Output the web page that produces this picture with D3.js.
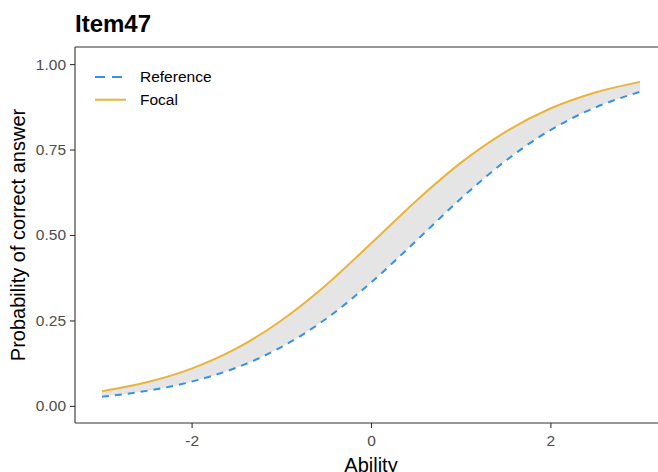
<!DOCTYPE html>
<html>
<head>
<meta charset="utf-8">
<script src="https://cdn.jsdelivr.net/npm/d3@7"></script>
<style>
  body { margin: 0; background: #fff; }
  svg { display: block; font-family: "Liberation Sans", Arial, sans-serif; }
</style>
</head>
<body>
<div id="chart-area"></div>
<script>
const chartWidth = 658
const chartHeight = 472

// values (ability on x, probability on y)
const ability = [-3, -2.5, -2, -1.5, -1, -0.5, 0, 0.5, 1, 1.5, 2, 2.5, 3]
const referenceP = [0.027, 0.044, 0.071, 0.112, 0.172, 0.255, 0.361, 0.482, 0.606, 0.717, 0.807, 0.873, 0.919]
const focalP = [0.043, 0.069, 0.109, 0.168, 0.250, 0.354, 0.475, 0.599, 0.711, 0.802, 0.870, 0.917, 0.948]
const xTicks = [-2, 0, 2]
const yTicks = [0, 0.25, 0.5, 0.75, 1]
const seriesNames = ["Reference", "Focal"]
const seriesColors = ["#3590E6", "#E9B43A"]

const panel = {left: 75, right: 667, top: 47, bottom: 423}

const svg = d3.select("#chart-area").append("svg")
    .attr("width", chartWidth)
    .attr("height", chartHeight)

const x = d3.scaleLinear().domain([-3.3, 3.3]).range([panel.left, panel.right])
const y = d3.scaleLinear().domain([-0.05, 1.05]).range([panel.bottom, panel.top])

const rows = ability.map((a, i) => ({a: a, ref: referenceP[i], foc: focalP[i]}))

// shaded gap between the two curves
const area = d3.area()
    .x(d => x(d.a))
    .y0(d => y(d.ref))
    .y1(d => y(d.foc))
    .curve(d3.curveMonotoneX)

svg.append("path")
    .datum(rows)
    .attr("d", area)
    .attr("fill", "#e5e5e5")

const line = key => d3.line()
    .x(d => x(d.a))
    .y(d => y(d[key]))
    .curve(d3.curveMonotoneX)

svg.append("path")
    .datum(rows)
    .attr("d", line("foc"))
    .attr("fill", "none")
    .attr("stroke", seriesColors[1])
    .attr("stroke-width", 2)

svg.append("path")
    .datum(rows)
    .attr("d", line("ref"))
    .attr("fill", "none")
    .attr("stroke", seriesColors[0])
    .attr("stroke-width", 2)
    .attr("stroke-dasharray", "7,6")

// axes
const xAxis = svg.append("g")
    .attr("transform", `translate(0, ${panel.bottom})`)
    .call(d3.axisBottom(x).tickValues(xTicks).tickSize(5).tickPadding(4).tickFormat(d => String(d)))

const yAxis = svg.append("g")
    .attr("transform", `translate(${panel.left}, 0)`)
    .call(d3.axisLeft(y).tickValues(yTicks).tickSize(5).tickPadding(4).tickFormat(d => d.toFixed(2)))

svg.selectAll(".domain").remove()
svg.selectAll(".tick line").attr("stroke", "#333").attr("stroke-width", 1.1)
svg.selectAll(".tick text")
    .attr("fill", "#4d4d4d")
    .attr("font-size", "15.5px")
    .attr("font-family", "Liberation Sans, Arial, sans-serif")
xAxis.selectAll(".tick text").attr("dy", "0.9em")

// axis lines + top border
svg.append("line").attr("x1", panel.left).attr("x2", chartWidth)
    .attr("y1", panel.bottom).attr("y2", panel.bottom)
    .attr("stroke", "#333").attr("stroke-width", 1.1)
svg.append("line").attr("x1", panel.left).attr("x2", panel.left)
    .attr("y1", panel.top).attr("y2", panel.bottom)
    .attr("stroke", "#333").attr("stroke-width", 1.1)
svg.append("line").attr("x1", panel.left).attr("x2", chartWidth)
    .attr("y1", panel.top).attr("y2", panel.top)
    .attr("stroke", "#333").attr("stroke-width", 1.1)

// titles
svg.append("text")
    .attr("x", 75)
    .attr("y", 31.5)
    .attr("font-size", "24px")
    .attr("font-weight", "bold")
    .text("Item47")

svg.append("text")
    .attr("x", (panel.left + panel.right) / 2)
    .attr("y", 472)
    .attr("text-anchor", "middle")
    .attr("font-size", "20px")
    .text("Ability")

svg.append("text")
    .attr("transform", `translate(25, ${(panel.top + panel.bottom) / 2}) rotate(-90)`)
    .attr("text-anchor", "middle")
    .attr("font-size", "20px")
    .text("Probability of correct answer")

// legend
const legend = svg.append("g").attr("transform", "translate(95, 77)")
seriesNames.forEach((name, i) => {
    const row = legend.append("g").attr("transform", `translate(0, ${i * 22.7})`)
    row.append("line")
        .attr("x1", 0).attr("x2", 31)
        .attr("stroke", seriesColors[i])
        .attr("stroke-width", 2)
        .attr("stroke-dasharray", i === 0 ? "10,7" : null)
    row.append("text")
        .attr("x", 45)
        .attr("dy", "0.35em")
        .attr("font-size", "15.5px")
        .text(name)
})
</script>
</body>
</html>
